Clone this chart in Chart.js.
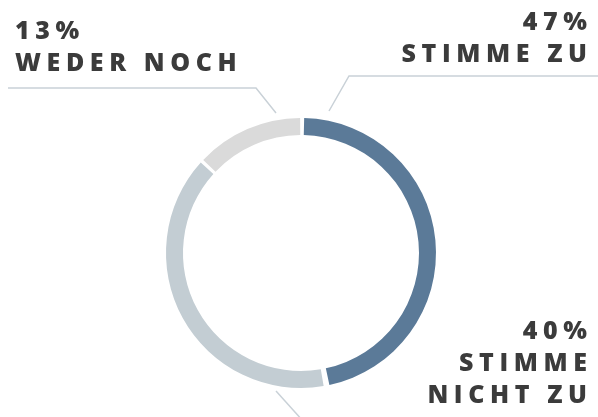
<!DOCTYPE html>
<html>
<head>
<meta charset="utf-8">
<script src="https://cdn.jsdelivr.net/npm/chart.js@4/dist/chart.umd.min.js"></script>
<style>
  html, body { margin: 0; padding: 0; background: #ffffff; }
  #wrap { width: 598px; height: 417px; position: relative; }
</style>
</head>
<body>
<div id="wrap"><canvas id="c" width="598" height="417"></canvas></div>
<script>
// Survey answers, clockwise from twelve o'clock
const categories = ['STIMME ZU', 'STIMME NICHT ZU', 'WEDER NOCH'];
const values = [47, 40, 13];
// Label text split into display lines
const labelLines = [['STIMME ZU'], ['STIMME', 'NICHT ZU'], ['WEDER NOCH']];
const colors = ['#5b7a98', '#c3cdd3', '#dadada'];

const TEXT_COLOR = '#3b3b3b';
const LINE_COLOR = '#c9d1d7';
const FONT = '800 25px "Open Sans", "Liberation Sans", sans-serif';
const SPACING = 5.6;
const LINE_H = 32;

// Draws a string with tracking; align 'left' or 'right' refers to the ink edge
function trackedText(ctx, str, x, y, align) {
  ctx.letterSpacing = SPACING + 'px';
  const w = ctx.measureText(str).width - SPACING;
  const sx = align === 'right' ? x - w : x;
  ctx.textAlign = 'left';
  ctx.fillText(str, sx, y);
}

const calloutPlugin = {
  id: 'callouts',
  afterDraw(chart) {
    const ctx = chart.ctx;
    const arc = chart.getDatasetMeta(0).data[0];
    const cx = arc.x, cy = arc.y;
    const W = chart.width;

    // leader lines
    ctx.save();
    ctx.strokeStyle = LINE_COLOR;
    ctx.lineWidth = 1.5;
    // WEDER NOCH (upper left)
    ctx.beginPath();
    ctx.moveTo(8, cy - 165);
    ctx.lineTo(cx - 45, cy - 165);
    ctx.lineTo(cx - 25, cy - 140);
    ctx.stroke();
    // STIMME ZU (upper right)
    ctx.beginPath();
    ctx.moveTo(W, cy - 177);
    ctx.lineTo(cx + 48, cy - 177);
    ctx.lineTo(cx + 28, cy - 142);
    ctx.stroke();
    // STIMME NICHT ZU (runs off the bottom edge)
    ctx.beginPath();
    ctx.moveTo(cx - 25, cy + 138);
    ctx.lineTo(cx + 2, cy + 168);
    ctx.stroke();
    ctx.restore();

    // labels
    ctx.save();
    ctx.font = FONT;
    ctx.fillStyle = TEXT_COLOR;
    ctx.textBaseline = 'alphabetic';
    const spots = [
      { x: 587, y: 30, align: 'right' },   // STIMME ZU
      { x: 587, y: 339, align: 'right' },  // STIMME NICHT ZU
      { x: 15, y: 39, align: 'left' }      // WEDER NOCH
    ];
    values.forEach((v, i) => {
      const s = spots[i];
      trackedText(ctx, v + '%', s.x, s.y, s.align);
      labelLines[i].forEach((ln, k) => {
        trackedText(ctx, ln, s.x, s.y + LINE_H * (k + 1), s.align);
      });
    });
    ctx.restore();
  }
};

new Chart(document.getElementById('c'), {
  type: 'doughnut',
  data: {
    labels: categories,
    datasets: [{
      data: values,
      backgroundColor: colors,
      borderWidth: 0,
      spacing: 4
    }]
  },
  options: {
    responsive: false,
    animation: false,
    radius: 133,
    cutout: 116,
    rotation: 0,
    layout: { padding: { left: 166, right: 162, top: 118, bottom: 29 } },
    plugins: {
      legend: { display: false },
      tooltip: { enabled: false }
    }
  },
  plugins: [calloutPlugin]
});
</script>
</body>
</html>
